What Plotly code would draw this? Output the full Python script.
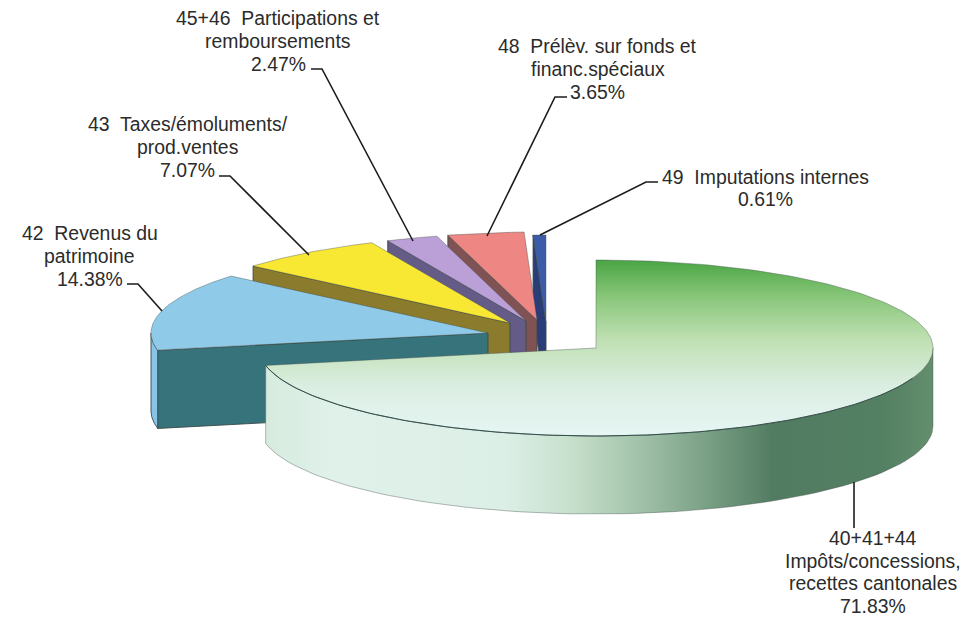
import numpy as np
import plotly.graph_objects as go

# ---- data ----
CATEGORIES = [
    "40+41+44<br>Impôts/concessions,<br>recettes cantonales",
    "42  Revenus du<br>patrimoine",
    "43  Taxes/émoluments/<br>prod.ventes",
    "45+46  Participations et<br>remboursements",
    "48  Prélèv. sur fonds et<br>financ.spéciaux",
    "49  Imputations internes",
]
VALUES = [71.83, 14.38, 7.07, 2.47, 3.65, 0.61]

# ---- styling / layout ----
APEX_X = [596, 488, 510, 526, 537, 546]
APEX_Y = [348, 333, 323, 321, 320, 323]
RX, RY, DEPTH = 337, 88, 78
TOP_COLORS = ["#8ec97e", "#8fcbe9", "#f9e833", "#bba0d8", "#ee8784", "#3c5ca9"]
WALL_COLORS = ["#9fc2a6", "#36737b", "#8b7b2c", "#645c87", "#7f5353", "#2b3d76"]
ARC_COLORS = ["#9fc2a6", "#86c4e8", "#8b7b2c", "#645c87", "#7f5353", "#2b3d76"]
OUTLINE = "#3a4a48"
TOP_OUTLINE = "rgba(70,80,80,0.45)"
LABEL_X = [873, 89.5, 187.5, 278, 597.5, 765]
LABEL_Y = [572, 256, 147, 41, 69, 188]
LINE_STEP = 22.6
LEADERS = [
    [(854, 482), (854, 528)],
    [(127, 284), (138, 284), (162, 311)],
    [(219, 176), (230, 176), (309, 255)],
    [(311, 69), (322, 69), (413, 241)],
    [(567, 97), (555, 97), (487, 236)],
    [(658, 182), (646, 182), (540, 235)],
]
# the vertical gradient runs from the bottom of the screen upward
GREEN_TOP_SCALE = [
    [0.0, "#e6f6f4"], [0.28, "#dbeee2"], [0.55, "#bfe0b2"],
    [0.8, "#86c577"], [1.0, "#4aa544"],
]
GREEN_SIDE_SCALE = [
    [0.0, "#d6ebde"], [0.1, "#e0f1ea"], [0.36, "#dcefe6"], [0.46, "#c6dfcb"],
    [0.56, "#a2c2a9"], [0.66, "#7aa085"], [0.76, "#527c62"], [0.92, "#537f62"], [1.0, "#638f6e"],
]


def arc(cx, cy, a0, a1, dy=0.0, n=80):
    t = np.radians(np.linspace(a0, a1, n))
    return cx + RX * np.sin(t), cy - RY * np.cos(t) + dy


fig = go.Figure()


def poly(x, y, color, name, gradient=None, outline=OUTLINE, width=0.9):
    x, y = np.append(x, x[0]), np.append(y, y[0])
    kw = dict(fillgradient=gradient) if gradient else dict(fillcolor=color)
    fig.add_trace(go.Scatter(x=x, y=y, mode="lines", fill="toself", name=name,
                             line=dict(color=outline, width=width),
                             hoverinfo="skip", showlegend=False, **kw))


ends = np.cumsum(VALUES) / sum(VALUES) * 360
starts = np.concatenate([[0], ends[:-1]])

# painter's order: back slices first, the large slice last
for i in range(len(VALUES) - 1, -1, -1):
    cx, cy, a0, a1 = APEX_X[i], APEX_Y[i], starts[i], ends[i]
    name = CATEGORIES[i].replace("<br>", " ")
    # visible radial wall (only the exploded slices show one)
    if i > 0:
        tx, ty = arc(cx, cy, a0, a0, n=1)
        poly(np.array([cx, tx[0], tx[0], cx]),
             np.array([cy, ty[0], ty[0] + DEPTH, cy + DEPTH]), WALL_COLORS[i], name)
    # visible outer wall
    lo, hi = max(a0, 90), min(a1, 270)
    if lo < hi:
        ax, ay = arc(cx, cy, lo, hi)
        bx, by = arc(cx, cy, hi, lo, dy=DEPTH)
        grad = dict(type="horizontal", colorscale=GREEN_SIDE_SCALE) if i == 0 else None
        poly(np.concatenate([ax, bx]), np.concatenate([ay, by]), ARC_COLORS[i], name,
             gradient=grad, outline=TOP_OUTLINE if i == 0 else OUTLINE)
    # top face
    ax, ay = arc(cx, cy, a0, a1, n=200)
    grad = dict(type="vertical", colorscale=GREEN_TOP_SCALE) if i == 0 else None
    poly(np.concatenate([[cx], ax]), np.concatenate([[cy], ay]), TOP_COLORS[i], name,
         gradient=grad, outline=TOP_OUTLINE)
    # the darker front rim of the large slice's top face
    if i == 0:
        rx_, ry_ = arc(cx, cy, 110, a1, n=120)
        fig.add_trace(go.Scatter(x=rx_, y=ry_, mode="lines", hoverinfo="skip", showlegend=False,
                                 line=dict(color="#34504a", width=1)))

shapes = []
for pts in LEADERS:
    path = "M " + " L ".join(f"{x} {y}" for x, y in pts)
    shapes.append(dict(type="path", path=path, xref="x", yref="y",
                       line=dict(color="#1c1c1c", width=1.6)))

annotations = []
for c, v, x, y in zip(CATEGORIES, VALUES, LABEL_X, LABEL_Y):
    lines = c.split("<br>") + [f"{v:.2f}%"]
    for k, line in enumerate(lines):
        annotations.append(dict(
            x=x, y=y + (k - (len(lines) - 1) / 2) * LINE_STEP, xref="x", yref="y",
            text=line, showarrow=False, align="center", xanchor="center", yanchor="middle",
            font=dict(family="Liberation Sans, Arial, sans-serif", size=19.4, color="#2b2b2b")))

fig.update_layout(
    width=977, height=617, margin=dict(l=0, r=0, t=0, b=0),
    paper_bgcolor="white", plot_bgcolor="white",
    xaxis=dict(range=[0, 977], visible=False, fixedrange=True),
    yaxis=dict(range=[617, 0], visible=False, fixedrange=True),
    shapes=shapes, annotations=annotations,
)
fig.write_html("out.html", config=dict(displayModeBar=False),
               post_script="document.body.style.margin='0';document.documentElement.style.overflow='hidden';")
